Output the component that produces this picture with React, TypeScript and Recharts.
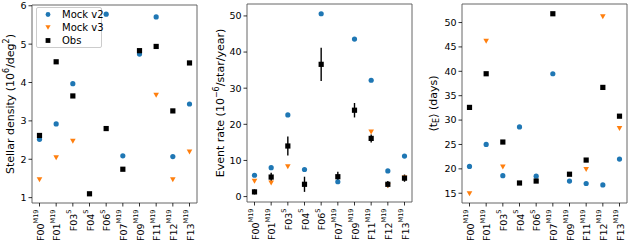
import React from 'react';
import {
  ScatterChart,
  Scatter,
  XAxis,
  YAxis,
  ErrorBar,
  ReferenceArea,
  Label,
} from 'recharts';

const fields = ['F00', 'F01', 'F03', 'F04', 'F06', 'F07', 'F09', 'F11', 'F12', 'F13'];
const fieldSups = ['M19', 'M19', 'S', 'S', 'S', 'M19', 'M19', 'M19', 'M19', 'M19'];

// stellar density (10^6/deg^2)
const densityV2 = [2.52, 2.92, 3.97, null, 5.78, 2.09, 4.74, 5.71, 2.07, 3.44];
const densityV3 = [1.47, 2.04, 2.47, null, null, null, null, 3.67, 1.47, 2.19];
const densityObs = [2.62, 4.54, 3.65, 1.1, 2.8, 1.74, 4.83, 4.94, 3.26, 4.51];

// event rate (10^-6/star/year)
const rateV2 = [5.9, 8.0, 22.6, 7.5, 50.6, 4.1, 43.6, 32.2, 7.1, 11.2];
const rateV3 = [4.3, 3.8, 8.3, null, null, null, null, 17.9, 3.0, 5.2];
const rateObs = [1.3, 5.4, 14.0, 3.4, 36.6, 5.5, 23.9, 16.1, 3.4, 5.1];
const rateObsErr = [0.7, 1.2, 2.6, 2.1, 4.6, 1.4, 2.0, 1.1, 0.9, 1.0];

// mean timescale (days)
const tEV2 = [20.5, 25.0, 18.6, 28.6, 18.5, 39.5, 17.5, 17.0, 16.7, 22.0];
const tEV3 = [14.9, 46.2, 20.4, null, null, null, null, 19.9, 51.2, 28.3];
const tEObs = [32.6, 39.5, 25.5, 17.1, 17.5, 51.8, 18.9, 21.8, 36.7, 30.8];

const BLUE = '#1f77b4';
const ORANGE = '#ff7f0e';
const FONT = 'DejaVu Sans, sans-serif';

const toPoints = (vals: (number | null)[], errs?: number[]) =>
  vals
    .map((v, i) => ({ x: i, y: v, err: errs ? errs[i] : 0 }))
    .filter((p) => p.y !== null);

const Circle = (p: any) => <circle cx={p.cx} cy={p.cy} r={2.6} fill={BLUE} />;
const Tri = (p: any) => (
  <polygon
    points={`${p.cx - 2.8},${p.cy - 2.4} ${p.cx + 2.8},${p.cy - 2.4} ${p.cx},${p.cy + 2.6}`}
    fill={ORANGE}
  />
);
const Square = (p: any) => <rect x={p.cx - 2.6} y={p.cy - 2.6} width={5.2} height={5.2} fill="#000" />;

const FieldTick = ({ x, y, payload }: any) => {
  const i = payload.value;
  return (
    <g transform={`translate(${x},${y + 1})`}>
      <text
        transform="rotate(-90)"
        textAnchor="end"
        dominantBaseline="central"
        fontSize={9.5}
        fontFamily={FONT}
        fill="#000"
      >
        <tspan>{fields[i]}</tspan>
        <tspan fontSize={6.5} dy={-3.5}>{fieldSups[i]}</tspan>
      </text>
    </g>
  );
};

interface PanelProps {
  left: number;
  width: number;
  axisWidth: number;
  top: number;
  xHeight: number;
  right: number;
  yDomain: [number, number];
  yTicks: number[];
  labelX: number;
  label: React.ReactNode;
  v2: (number | null)[];
  v3: (number | null)[];
  obs: (number | null)[];
  obsErr?: number[];
}

function Panel(props: PanelProps) {
  const { left, width, axisWidth, top, xHeight, right, yDomain, yTicks, labelX, label } = props;
  return (
    <div style={{ position: 'absolute', left, top: 0 }}>
      <ScatterChart width={width} height={240} margin={{ top, right, bottom: 0, left: 0 }}>
        <XAxis
          type="number"
          dataKey="x"
          domain={[-0.45, 9.45]}
          ticks={[0, 1, 2, 3, 4, 5, 6, 7, 8, 9]}
          interval={0}
          allowDataOverflow
          height={xHeight}
          tickSize={3.5}
          tickLine={{ stroke: '#000', strokeWidth: 0.8 }}
          axisLine={false}
          tick={<FieldTick />}
        />
        <YAxis
          type="number"
          dataKey="y"
          domain={yDomain}
          ticks={yTicks}
          allowDataOverflow
          width={axisWidth}
          tickSize={3.5}
          tickLine={{ stroke: '#000', strokeWidth: 0.8 }}
          axisLine={false}
          tick={{ fontSize: 9.5, fill: '#000', fontFamily: FONT }}
        >
          <Label
            content={({ viewBox }: any) => (
              <text
                transform={`translate(${labelX},${viewBox.y + viewBox.height / 2}) rotate(-90)`}
                textAnchor="middle"
                dominantBaseline="central"
                fontSize={11}
                fontFamily={FONT}
                fill="#000"
              >
                {label}
              </text>
            )}
          />
        </YAxis>
        <ReferenceArea
          x1={-0.45}
          x2={9.45}
          y1={yDomain[0]}
          y2={yDomain[1]}
          fill="none"
          stroke="#555"
          strokeWidth={0.9}
          ifOverflow="visible"
        />
        <Scatter data={toPoints(props.v2)} shape={Circle} isAnimationActive={false} />
        <Scatter data={toPoints(props.v3)} shape={Tri} isAnimationActive={false} />
        <Scatter data={toPoints(props.obs, props.obsErr)} shape={Square} isAnimationActive={false}>
          {props.obsErr && (
            <ErrorBar dataKey="err" direction="y" width={0} stroke="#000" strokeWidth={1.4} />
          )}
        </Scatter>
      </ScatterChart>
    </div>
  );
}

const legendItems = [
  { name: 'Mock v2', shape: 'circle' },
  { name: 'Mock v3', shape: 'tri' },
  { name: 'Obs', shape: 'square' },
];

function LegendBox() {
  return (
    <div
      style={{
        position: 'absolute',
        left: 36,
        top: 7,
        width: 64,
        border: '1px solid #ccc',
        borderRadius: 2,
        background: 'rgba(255,255,255,0.8)',
        fontFamily: FONT,
        fontSize: 10,
        whiteSpace: 'nowrap',
        lineHeight: '13px',
      }}
    >
      {legendItems.map((it) => (
        <div key={it.name} style={{ display: 'flex', alignItems: 'center', height: 13 }}>
          <svg width={22} height={13} style={{ flex: 'none' }}>
            {it.shape === 'circle' && <circle cx={11} cy={6.5} r={2.4} fill={BLUE} />}
            {it.shape === 'tri' && <polygon points="8.4,4.3 13.6,4.3 11,8.8" fill={ORANGE} />}
            {it.shape === 'square' && <rect x={8.6} y={4.1} width={4.8} height={4.8} fill="#000" />}
          </svg>
          <span style={{ marginLeft: 3 }}>{it.name}</span>
        </div>
      ))}
    </div>
  );
}

export default function App() {
  return (
    <div style={{ position: 'absolute', left: 0, top: 0, width: 640, height: 240, background: '#fff' }}>
      <Panel
        left={0}
        width={210}
        axisWidth={32}
        top={5}
        xHeight={37}
        right={13}
        yDomain={[0.86, 6.02]}
        yTicks={[1, 2, 3, 4, 5, 6]}
        labelX={10}
        label={
          <>
            Stellar density (10<tspan dy={-4} fontSize={8}>6</tspan>
            <tspan dy={4}>/deg</tspan>
            <tspan dy={-4} fontSize={8}>2</tspan>
            <tspan dy={4}>)</tspan>
          </>
        }
        v2={densityV2}
        v3={densityV3}
        obs={densityObs}
      />
      <Panel
        left={210}
        width={210}
        axisWidth={37}
        top={4}
        xHeight={38}
        right={8}
        yDomain={[-1.5, 53.3]}
        yTicks={[0, 10, 20, 30, 40, 50]}
        labelX={10}
        label={
          <>
            Event rate (10<tspan dy={-4} fontSize={8}>−6</tspan>
            <tspan dy={4}>/star/year)</tspan>
          </>
        }
        v2={rateV2}
        v3={rateV3}
        obs={rateObs}
        obsErr={rateObsErr}
      />
      <Panel
        left={420}
        width={220}
        axisWidth={42}
        top={4}
        xHeight={37}
        right={13}
        yDomain={[13.0, 53.8]}
        yTicks={[15, 20, 25, 30, 35, 40, 45, 50]}
        labelX={13}
        label={
          <>
            ⟨t<tspan dy={2.5} fontSize={8}>E</tspan>
            <tspan dy={-2.5}>⟩ (days)</tspan>
          </>
        }
        v2={tEV2}
        v3={tEV3}
        obs={tEObs}
      />
      <LegendBox />
    </div>
  );
}
